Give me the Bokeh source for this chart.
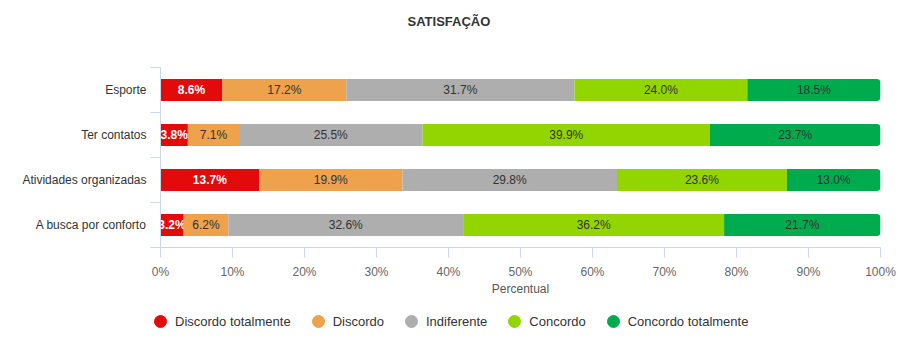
from bokeh.plotting import figure
from bokeh.models import (ColumnDataSource, Range1d, FixedTicker, PrintfTickFormatter,
                          Legend, LegendItem, Title)
from bokeh.layouts import column
from bokeh.embed import file_html
from bokeh.resources import INLINE
from bokeh.core.properties import value

# ---- data ----
categories = ["Esporte", "Ter contatos", "Atividades organizadas", "A busca por conforto"]
series_names = ["Discordo totalmente", "Discordo", "Indiferente", "Concordo", "Concordo totalmente"]
discordo_totalmente = [8.6, 3.8, 13.7, 3.2]
discordo = [17.2, 7.1, 19.9, 6.2]
indiferente = [31.7, 25.5, 29.8, 32.6]
concordo = [24.0, 39.9, 23.6, 36.2]
concordo_totalmente = [18.5, 23.7, 13.0, 21.7]
x_ticks = [0, 10, 20, 30, 40, 50, 60, 70, 80, 90, 100]
colors = ["#E20A0A", "#EDA24B", "#AEAEAE", "#92D500", "#00AB4E"]

series = [discordo_totalmente, discordo, indiferente, concordo, concordo_totalmente]

FONT = "Liberation Sans"
n = len(categories)
ypos = [n - i - 0.5 for i in range(n)]
totals = [sum(s[i] for s in series) for i in range(n)]

p = figure(frame_width=720, frame_height=180, output_backend="svg", toolbar_location=None,
           x_range=Range1d(0, 100), y_range=Range1d(0, n),
           min_border_left=160, min_border_right=20, min_border_top=67, min_border_bottom=58)
p.outline_line_color = None
p.grid.visible = False

p.title.text = "SATISFAÇÃO"
p.title.text_font = FONT
p.title.text_font_size = "13px"
p.title.text_font_style = "bold"
p.title.text_color = "#333333"
p.title.align = "left"
p.title.offset = 247
p.title.standoff = 10
# spacer between title and plot frame
p.add_layout(Title(text=" ", text_font_size="1px", standoff=31), "above")

cum = [0.0] * n
for k, (name, vals, col) in enumerate(zip(series_names, series, colors)):
    left = [cum[i] / totals[i] * 100 for i in range(n)]
    for i in range(n):
        cum[i] += vals[i]
    right = [cum[i] / totals[i] * 100 for i in range(n)]
    src = ColumnDataSource(dict(y=ypos, left=left, right=right,
                                mid=[(l + r) / 2 for l, r in zip(left, right)],
                                lab=["%.1f%%" % v for v in vals]))
    kw = {}
    if k == len(series) - 1:
        kw["border_radius"] = (0, 4, 4, 0)
    p.hbar(y="y", left="left", right="right", height=0.49, source=src,
           fill_color=col, line_color=None, **kw)
    p.text(x="mid", y="y", text="lab", source=src, text_align="center",
           text_baseline="middle", text_font=value(FONT), text_font_size="12px",
           text_color="white" if k == 0 else "#333333",
           text_font_style="bold" if k == 0 else "normal")

# x axis
xa = p.xaxis[0]
xa.ticker = FixedTicker(ticks=x_ticks)
xa.formatter = PrintfTickFormatter(format="%d%%")
xa.axis_line_color = "#ccd6eb"
xa.major_tick_line_color = "#ccd6eb"
xa.major_tick_out = 10
xa.major_tick_in = 0
xa.minor_tick_line_color = None
xa.major_label_text_font = FONT
xa.major_label_text_font_size = "12px"
xa.major_label_text_color = "#666666"
xa.major_label_standoff = 7
xa.axis_label = "Percentual"
xa.axis_label_text_font = FONT
xa.axis_label_text_font_size = "12px"
xa.axis_label_text_font_style = "normal"
xa.axis_label_text_color = "#555555"
xa.axis_label_standoff = 0

# y axis
ya = p.yaxis[0]
ya.ticker = FixedTicker(ticks=ypos, minor_ticks=list(range(n + 1)))
ya.major_label_overrides = {y: c for y, c in zip(ypos, categories)}
ya.axis_line_color = "#ccd6eb"
ya.major_tick_line_color = None
ya.major_tick_out = 0
ya.major_tick_in = 0
ya.minor_tick_line_color = "#ccd6eb"
ya.minor_tick_out = 10
ya.minor_tick_in = 0
ya.major_label_text_font = FONT
ya.major_label_text_font_size = "12px"
ya.major_label_text_color = "#333333"
ya.major_label_standoff = 4

# ---- legend strip (separate figure under the chart) ----
p2 = figure(frame_width=900, frame_height=45, output_backend="svg", toolbar_location=None,
            x_range=Range1d(0, 1), y_range=Range1d(0, 1),
            min_border_left=0, min_border_right=0, min_border_top=0, min_border_bottom=0,
            x_axis_location=None, y_axis_location=None)
p2.outline_line_color = None
p2.grid.visible = False
items = []
for name, col in zip(series_names, colors):
    r = p2.scatter(x=[-10], y=[-10], marker="circle", fill_color=col, line_color=col)
    items.append(LegendItem(label=name, renderers=[r]))
legend = Legend(items=items, orientation="horizontal", location=(145, 14),
                glyph_width=30, glyph_height=30, label_standoff=0, spacing=12,
                padding=0, margin=0, border_line_color=None, background_fill_alpha=0,
                label_text_font=FONT, label_text_font_size="13px", label_text_color="#333333")
p2.add_layout(legend, "center")

layout = column(p, p2, spacing=0)
open("out.html", "w").write(file_html(layout, INLINE))
